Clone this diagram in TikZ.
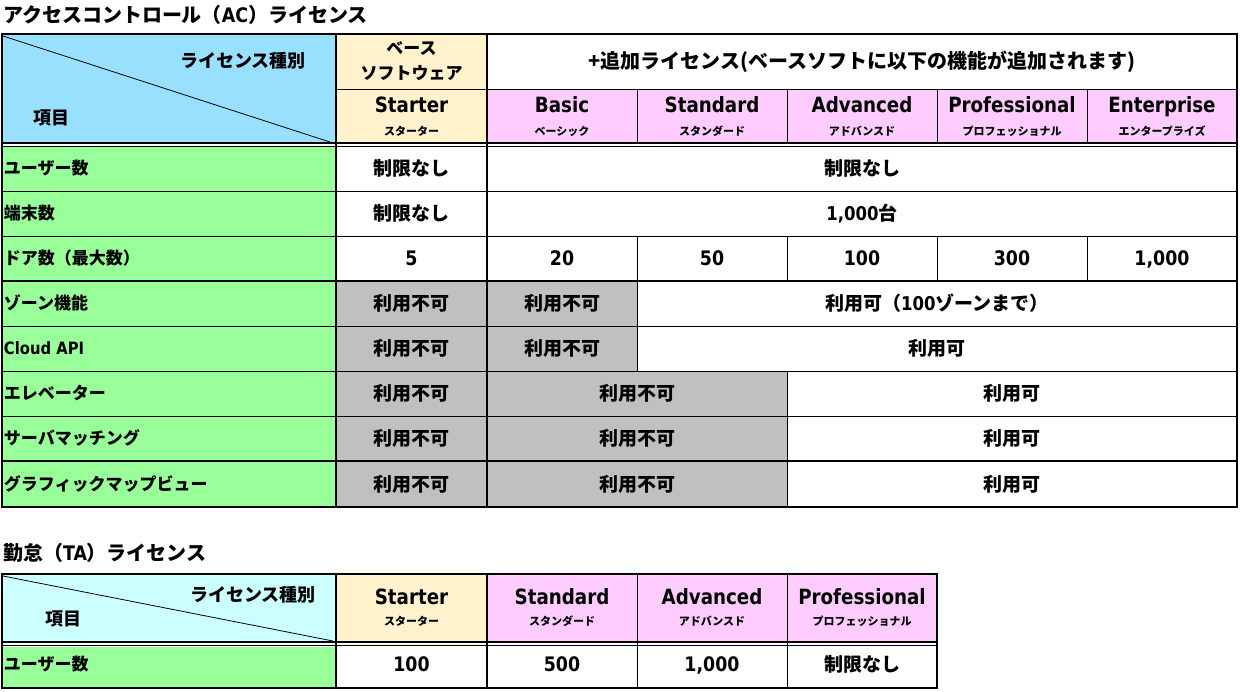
\documentclass[tikz,border=0pt]{standalone}
\usepackage{fontspec}
\setmainfont{Noto Sans CJK JP}
\newfontfamily\latf{DejaVu Sans}[FakeStretch=0.87]
\newcommand\la[1]{{\latf #1}}
\newcommand\fsz[1]{\fontsize{#1}{#1}\selectfont\bfseries}
\definecolor{hblue}{RGB}{153,224,255}
\definecolor{hcyan}{RGB}{204,255,255}
\definecolor{beige}{RGB}{255,242,204}
\definecolor{pinkc}{RGB}{255,204,255}
\definecolor{greenc}{RGB}{153,255,153}
\definecolor{grayc}{RGB}{192,192,192}
\tikzset{
  txt/.style={inner sep=0pt, outer sep=0pt, anchor=base, text=black},
  cell/.style={txt, font=\fsz{19}, yshift=-7.2pt},
  num/.style={txt, font=\fsz{20}\latf, yshift=-7.3pt},
  lab/.style={txt, anchor=base west, font=\fsz{17}, yshift=-6.4pt},
  big/.style={txt, font=\fsz{21}\latf, yshift=-7.6pt},
  small/.style={txt, font=\fsz{11}, yshift=-4.2pt},
  hdr/.style={txt, font=\fsz{18}, yshift=-6.8pt},
  ttl/.style={txt, anchor=base west, font=\fsz{20}, yshift=-7.6pt},
  thickline/.style={line width=2.6pt, line cap=rect},
  midline/.style={line width=1.8pt},
  thinline/.style={line width=0.9pt},
  diag/.style={line width=0.8pt},
}
\begin{document}
\begin{tikzpicture}[x=1pt,y=-1pt]
\useasboundingbox (0,0) rectangle (1240,691);
\fill[white] (0,0) rectangle (1240,691);

% ================= Table 1 =================
\node[ttl] (t1) at (3,15) {アクセスコントロール（\la{AC}）ライセンス};

% fills
\fill[hblue] (2,34) rectangle (336,144);
\fill[beige] (336,34) rectangle (487,144);
\fill[pinkc] (487,89) rectangle (1237,144);
\fill[greenc] (2,146) rectangle (336,507);
\fill[grayc] (336,281) rectangle (487,507);
\fill[grayc] (487,281) rectangle (637,371);
\fill[grayc] (487,371) rectangle (787,507);

% thin lines
\draw[thinline] (336,89) -- (1237,89);
\foreach \xx in {637,787,937,1087} {\draw[thinline] (\xx,89) -- (\xx,144);}
\foreach \yy in {191,236,326,371,416} {\draw[thinline] (2,\yy) -- (1237,\yy);}
\foreach \xx in {637,787,937,1087} {\draw[thinline] (\xx,236) -- (\xx,281);}
\draw[thinline] (637,281) -- (637,371);
\draw[thinline] (787,371) -- (787,507);
\draw[midline] (2,281) -- (1237,281);
\draw[midline] (2,461) -- (1237,461);
\draw[thinline] (2,146.5) -- (1237,146.5);
\draw[diag] (3,36) -- (333,143);
% thick lines
\draw[thickline] (2,143) -- (1237,143);
\draw[thickline] (336,34) -- (336,507);
\draw[thickline] (487,34) -- (487,507);
\draw[thickline] (2,34) rectangle (1237,507);

% header texts
\node[hdr] (h1type) at (243,61) {ライセンス種別};
\node[hdr] (h1item) at (51,118) {項目};
\node[txt,font=\fsz{17},yshift=-6.4pt] (h1base) at (411.5,48) {ベース};
\node[txt,font=\fsz{17},yshift=-6.4pt] (h1soft) at (411.5,73) {ソフトウェア};
\node[txt,font=\fsz{20},yshift=-7.6pt] (h1add) at (862,61) {+追加ライセンス(ベースソフトに以下の機能が追加されます)};
\node[big] (n1st) at (411.5,105) {Starter};
\node[small] (k1st) at (411.5,131) {スターター};
\node[big] (n1ba) at (562,105) {Basic};
\node[small] (k1ba) at (562,131) {ベーシック};
\node[big] (n1sd) at (712,105) {Standard};
\node[small] (k1sd) at (712,131) {スタンダード};
\node[big] (n1ad) at (862,105) {Advanced};
\node[small] (k1ad) at (862,131) {アドバンスド};
\node[big] (n1pr) at (1012,105) {Professional};
\node[small] (k1pr) at (1012,131) {プロフェッショナル};
\node[big] (n1en) at (1162,105) {Enterprise};
\node[small] (k1en) at (1162,131) {エンタープライズ};

% row labels
\node[lab] (l1) at (4,168.5) {ユーザー数};
\node[lab] (l2) at (4,213.5) {端末数};
\node[lab] (l3) at (4,258.5) {ドア数（最大数）};
\node[lab] (l4) at (4,303.5) {ゾーン機能};
\node[lab] (l5) at (4,348.5) {\la{Cloud API}};
\node[lab] (l6) at (4,393.5) {エレベーター};
\node[lab] (l7) at (4,438.5) {サーバマッチング};
\node[lab] (l8) at (4,484) {グラフィックマップビュー};

% row 1
\node[cell] (r1a) at (411.5,168.5) {制限なし};
\node[cell] (r1b) at (862,168.5) {制限なし};
% row 2
\node[cell] (r2a) at (411.5,213.5) {制限なし};
\node[cell] (r2b) at (862,213.5) {\la{1,000}台};
% row 3
\node[num] (r3a) at (411.5,258.5) {5};
\node[num] (r3b) at (562,258.5) {20};
\node[num] (r3c) at (712,258.5) {50};
\node[num] (r3d) at (862,258.5) {100};
\node[num] (r3e) at (1012,258.5) {300};
\node[num] (r3f) at (1162,258.5) {1,000};
% row 4
\node[cell] (r4a) at (411.5,303.5) {利用不可};
\node[cell] (r4b) at (562,303.5) {利用不可};
\node[cell] (r4c) at (937,303.5) {利用可（\la{100}ゾーンまで）};
% row 5
\node[cell] (r5a) at (411.5,348.5) {利用不可};
\node[cell] (r5b) at (562,348.5) {利用不可};
\node[cell] (r5c) at (937,348.5) {利用可};
% row 6
\node[cell] (r6a) at (411.5,393.5) {利用不可};
\node[cell] (r6b) at (637,393.5) {利用不可};
\node[cell] (r6c) at (1012,393.5) {利用可};
% row 7
\node[cell] (r7a) at (411.5,438.5) {利用不可};
\node[cell] (r7b) at (637,438.5) {利用不可};
\node[cell] (r7c) at (1012,438.5) {利用可};
% row 8
\node[cell] (r8a) at (411.5,484) {利用不可};
\node[cell] (r8b) at (637,484) {利用不可};
\node[cell] (r8c) at (1012,484) {利用可};

% ================= Table 2 =================
\node[ttl] (t2) at (3,553) {勤怠（\la{TA}）ライセンス};

\fill[hcyan] (2,574) rectangle (336,642);
\fill[beige] (336,574) rectangle (487,642);
\fill[pinkc] (487,574) rectangle (937,642);
\fill[greenc] (2,647) rectangle (336,688);

\draw[thinline] (637,574) -- (637,688);
\draw[thinline] (787,574) -- (787,688);
\draw[thinline] (2,645.5) -- (937,645.5);
\draw[diag] (3,576) -- (333,641);
\draw[thickline] (2,642) -- (937,642);
\draw[thickline] (336,574) -- (336,688);
\draw[thickline] (487,574) -- (487,688);
\draw[thickline] (2,574) rectangle (937,688);

\node[hdr] (h2type) at (253,595) {ライセンス種別};
\node[hdr] (h2item) at (63,619) {項目};
\node[big] (n2st) at (411.5,597) {Starter};
\node[small] (k2st) at (411.5,621) {スターター};
\node[big] (n2sd) at (562,597) {Standard};
\node[small] (k2sd) at (562,621) {スタンダード};
\node[big] (n2ad) at (712,597) {Advanced};
\node[small] (k2ad) at (712,621) {アドバンスド};
\node[big] (n2pr) at (862,597) {Professional};
\node[small] (k2pr) at (862,621) {プロフェッショナル};

\node[lab] (m1) at (4,664) {ユーザー数};
\node[num] (m1a) at (411.5,664) {100};
\node[num] (m1b) at (562,664) {500};
\node[num] (m1c) at (712,664) {1,000};
\node[cell] (m1d) at (862,664) {制限なし};
\end{tikzpicture}
\end{document}
